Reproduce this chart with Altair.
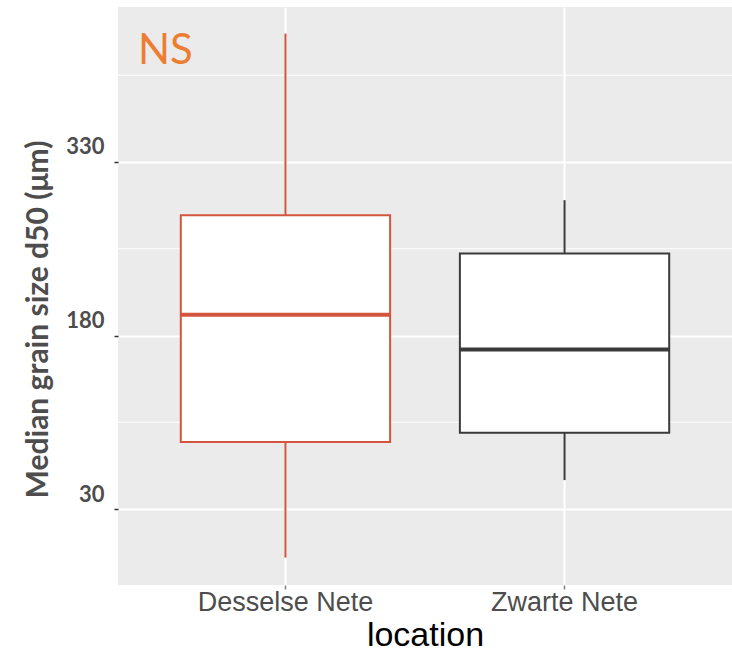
import altair as alt
import pandas as pd

# ---- data ----
locations = ["Desselse Nete", "Zwarte Nete"]
whisker_low = [-12, 55]
q1 = [88, 96]
median = [198, 168]
q3 = [284, 251]
whisker_high = [441, 297]
box_colors = ["#D4553D", "#3A3A3A"]

major_breaks = [30, 180, 330]
minor_breaks = [105, 255, 405]
y_domain = [-35.7, 464]
annotation = ["NS"]

df = pd.DataFrame({
    "location": locations,
    "lo": whisker_low,
    "q1": q1,
    "med": median,
    "q3": q3,
    "hi": whisker_high,
})
minor_df = pd.DataFrame({"v": minor_breaks})
ann_df = pd.DataFrame({"t": annotation})

yscale = alt.Scale(domain=y_domain, nice=False, zero=False)
xscale = alt.Scale(domain=locations, paddingInner=0.25, paddingOuter=0.225)
color = alt.Color("location:N", scale=alt.Scale(domain=locations, range=box_colors), legend=None)

x_axis = alt.Axis(
    grid=True, gridColor="white", gridWidth=2, bandPosition=0.5,
    domain=False, tickColor="#7F7F7F", tickSize=4, tickWidth=1.5,
    labelFont="Liberation Sans", labelFontSize=27, labelColor="#4D4D4D",
    labelPadding=0, labelAngle=0,
    title="location", titleFont="Liberation Sans", titleFontSize=34,
    titleFontWeight="normal", titleColor="black",
    titleBaseline="alphabetic", titleY=60,
)
y_axis = alt.Axis(
    values=major_breaks, grid=True, gridColor="white", gridWidth=2,
    domain=False, tickColor="#333333", tickSize=4, tickWidth=1.5,
    labelFont="Lato", labelFontWeight="bold", labelFontSize=22, labelColor="#4D4D4D",
    labelPadding=10, labelBaseline="alphabetic", labelOffset=-8,
    title="Median grain size d50 (μm)", titleFont="Lato", titleFontWeight="bold",
    titleFontSize=30, titleColor="#4D4D4D", titleAngle=270,
    titleAlign="center", titleBaseline="middle", titleX=-80, titleY=312,
)

base = alt.Chart(df)

minor = alt.Chart(minor_df).mark_rule(color="white", strokeWidth=1).encode(
    y=alt.Y("v:Q", scale=yscale, axis=y_axis)
)

whisk_up = base.mark_rule(strokeWidth=2).encode(
    x=alt.X("location:N", scale=xscale, axis=x_axis),
    y=alt.Y("q3:Q", scale=yscale),
    y2="hi:Q",
    color=color,
)
whisk_dn = base.mark_rule(strokeWidth=2).encode(
    x=alt.X("location:N", scale=xscale),
    y=alt.Y("lo:Q", scale=yscale),
    y2="q1:Q",
    color=color,
)
box = base.mark_bar(fill="white", strokeWidth=2).encode(
    x=alt.X("location:N", scale=xscale),
    y=alt.Y("q1:Q", scale=yscale),
    y2="q3:Q",
    stroke=alt.Stroke("location:N", scale=alt.Scale(domain=locations, range=box_colors), legend=None),
)
med = base.mark_tick(thickness=4, size=209, orient="horizontal").encode(
    x=alt.X("location:N", scale=xscale),
    y=alt.Y("med:Q", scale=yscale),
    color=color,
)
ns = alt.Chart(ann_df).mark_text(
    font="Lato", fontSize=42, color="#ED7D31", align="left", baseline="alphabetic"
).encode(x=alt.value(20), y=alt.value(57), text="t:N")

chart = alt.layer(minor, whisk_up, whisk_dn, box, med, ns).properties(
    width=614, height=578,
    autosize=alt.AutoSizeParams(type="none"),
    padding={"left": 118, "top": 7, "right": 0, "bottom": 67},
    background="white",
).configure_view(fill="#EBEBEB", stroke=None).configure_tick(opacity=1).configure_mark(opacity=1)

chart.save("out.html", embed_options={"renderer": "svg", "actions": False})
